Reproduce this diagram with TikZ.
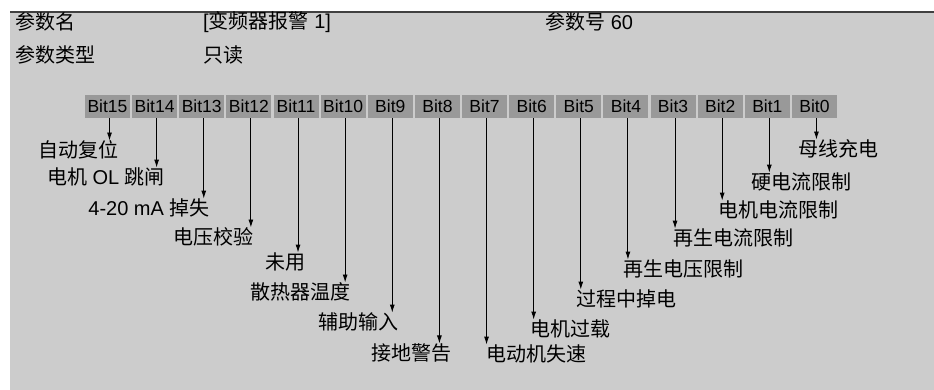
\documentclass[tikz,border=0pt]{standalone}
\usepackage{fontspec}
\setmainfont{Liberation Sans}
\newfontfamily\cjk{Noto Sans CJK SC}
\usetikzlibrary{arrows.meta}

\definecolor{panelgray}{HTML}{CCCCCC}
\definecolor{bitgray}{HTML}{999999}
\definecolor{rulegray}{HTML}{404040}

\tikzset{
  bitbox/.style={fill=bitgray, minimum width=45pt, minimum height=23pt,
    inner sep=0pt, font=\fontsize{17.5}{20}\selectfont},
  bitlabel/.style={inner sep=0pt, font=\fontsize{20}{24}\selectfont},
  bitarrow/.style={-{Latex[length=8pt,width=5pt]}, line width=0.9pt},
}

\begin{document}
\begin{tikzpicture}[x=1pt,y=-1pt]

\useasboundingbox (0,0) rectangle (934,390);

% Fond
\fill[panelgray] (10,12) rectangle (934,390);
\draw[rulegray, line width=1.5pt] (10,12) -- (934,12);

% En-tete
\node[bitlabel, anchor=west] (pname) at (15,22) {\cjk 参数名};
\node[bitlabel, anchor=west] (pval) at (203,22) {[{\cjk 变频器报警} 1]};
\node[bitlabel, anchor=west] (pnum) at (545,22) {{\cjk 参数号} 60};
\node[bitlabel, anchor=west] (ptype) at (15,55) {\cjk 参数类型};
\node[bitlabel, anchor=west] (pread) at (203,55) {\cjk 只读};

% Bits
\foreach \i in {0,...,15} {
  \node[bitbox] (b\i) at ({107.5+47.13*(15-\i)},106.5) {Bit\i};
}

% Libelles
\node[bitlabel] (l15) at (78,150) {\cjk 自动复位};
\node[bitlabel] (l14) at (106,177) {{\cjk 电机} OL {\cjk 跳闸}};
\node[bitlabel] (l13) at (149,208) {4-20 mA {\cjk 掉失}};
\node[bitlabel] (l12) at (213,237) {\cjk 电压校验};
\node[bitlabel] (l11) at (285,262) {\cjk 未用};
\node[bitlabel] (l10) at (300,292) {\cjk 散热器温度};
\node[bitlabel] (l9) at (358,322) {\cjk 辅助输入};
\node[bitlabel] (l8) at (411,353) {\cjk 接地警告};
\node[bitlabel] (l7) at (536,354) {\cjk 电动机失速};
\node[bitlabel] (l6) at (570,329) {\cjk 电机过载};
\node[bitlabel] (l5) at (626,299) {\cjk 过程中掉电};
\node[bitlabel] (l4) at (683,269) {\cjk 再生电压限制};
\node[bitlabel] (l3) at (733,238) {\cjk 再生电流限制};
\node[bitlabel] (l2) at (778,210) {\cjk 电机电流限制};
\node[bitlabel] (l1) at (801,182) {\cjk 硬电流限制};
\node[bitlabel] (l0) at (838,149) {\cjk 母线充电};

% Fleches
\foreach \i in {0,...,15}
  \draw[bitarrow] ([xshift=2pt]b\i.south) -- ([xshift=2pt]b\i.south |- l\i.north);

\end{tikzpicture}
\end{document}
